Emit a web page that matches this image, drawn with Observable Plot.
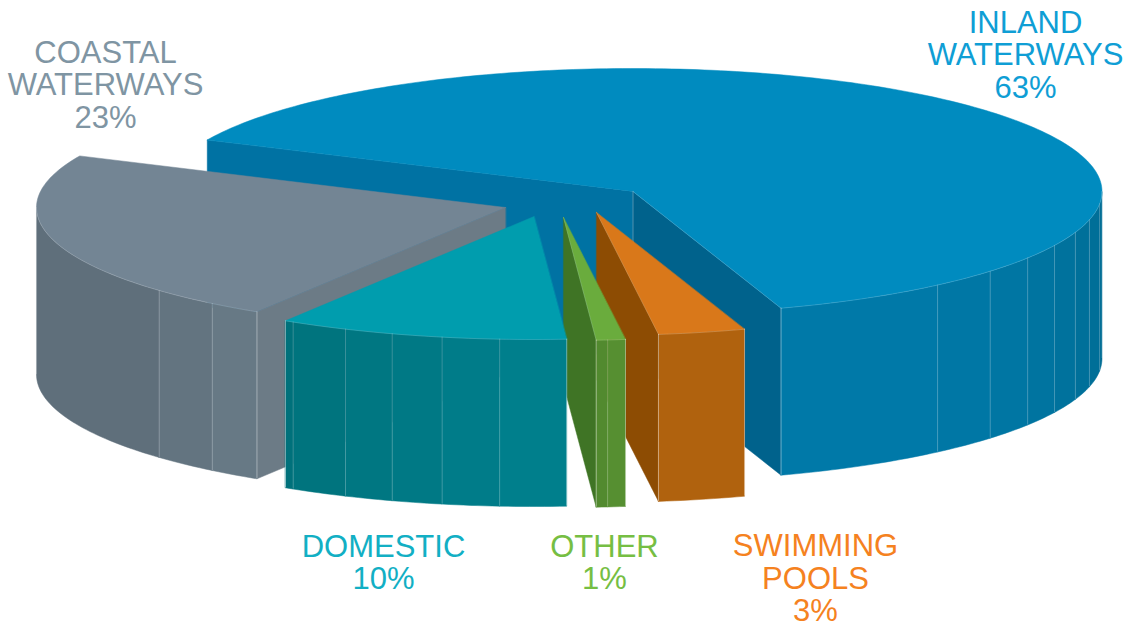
<!DOCTYPE html>
<html>
<head>
<meta charset="utf-8">
<script src="https://cdn.jsdelivr.net/npm/d3@7"></script>
<script src="https://cdn.jsdelivr.net/npm/@observablehq/plot@0.6"></script>
<style>
  html, body { margin: 0; padding: 0; background: #fff; }
  svg { display: block; }
</style>
</head>
<body>
<div id="chart"></div>
<script>
// Shares of water use by category, in percent
const categories = ["Inland waterways", "Coastal waterways", "Domestic", "Other", "Swimming pools"];
const shares = [63, 23, 10, 1, 3];

// Label text, one entry per category
const labelText = ["INLAND\nWATERWAYS\n63%", "COASTAL\nWATERWAYS\n23%", "DOMESTIC\n10%", "OTHER\n1%", "SWIMMING\nPOOLS\n3%"];
const labelX = [1025, 105, 383, 604, 815];
const labelY = [54.5, 84.5, 562, 562, 578];
const labelColors = ["#0f9ed5", "#7f95a3", "#12afc4", "#76be43", "#f5821f"];

// Exploded position of each wedge's apex
const apexX = [632.5, 505, 533.5, 563, 596];
const apexY = [191, 207, 216, 217, 212];

// Pie shape: ellipse radii and extruded thickness, first wedge's starting angle
const radiusX = 469;
const radiusY = 123;
const thickness = 167;
const startAngle = -71.6;

// Wedge colours
const topColors = ["#008bbf", "#738594", "#009dae", "#6aac3d", "#d9781a"];
const startWallColors = ["#00628c", "#5f707c", "#00737e", "#3f7425", "#8d4c03"];
const endWallColors = ["#0072a3", "#6c7b86", "#00737e", "#3f7425", "#8d4c03"];
const rimNearColors = ["#0079a8", "#5f6f7b", "#00717b", "#528a2f", "#b0620e"];
const rimFarColors = ["#006d95", "#677985", "#007f8c", "#568f31", "#b0620e"];

// Angles of the vertical creases on each wedge's curved wall
const creaseAngles = [
  [-49.5, -40.4, -32.7, -26, -19.4, -13.3, -5.8],
  [222.4, 231.3],
  [239.1, 246.3, 252.4, 258.7, 265.8],
  [275.4],
  []
];

// Painting order, back to front
const paintOrder = [0, 1, 4, 3, 2];

const rad = (d) => (d * Math.PI) / 180;

// Angular extent of each wedge, computed from its share
let running = startAngle;
const extents = shares.map((s) => {
  const a0 = running;
  running += (s / 100) * 360;
  return [a0, running];
});

function rimPoint(i, angle, drop = 0) {
  return {
    x: apexX[i] + radiusX * Math.cos(rad(angle)),
    y: apexY[i] - radiusY * Math.sin(rad(angle)) + drop
  };
}

function arc(i, a0, a1, drop = 0) {
  const n = Math.max(2, Math.ceil(Math.abs(a1 - a0)));
  return d3.range(n + 1).map((k) => rimPoint(i, a0 + ((a1 - a0) * k) / n, drop));
}

// Part of [a0, a1] where the rim faces the viewer
function nearSpan(a0, a1) {
  const spans = [[-180, 0], [180, 360]];
  for (const [lo, hi] of spans) {
    const s = Math.max(a0, lo), e = Math.min(a1, hi);
    if (e > s) return [s, e];
  }
  return null;
}

function radialWall(i, angle, fill) {
  const apex = { x: apexX[i], y: apexY[i] };
  const rim = rimPoint(i, angle);
  return {
    fill,
    points: [apex, rim, { x: rim.x, y: rim.y + thickness }, { x: apex.x, y: apex.y + thickness }]
  };
}

const marks = [];

for (const i of paintOrder) {
  const [a0, a1] = extents[i];
  const faces = [];
  const creases = [];
  const edges = [];

  // Flat walls exposed by pulling the wedge out of the pie
  const endVisible = Math.cos(rad(a1)) < 0;
  const startVisible = Math.cos(rad(a0)) > 0;
  if (endVisible) faces.push(radialWall(i, a1, endWallColors[i]));
  if (startVisible) faces.push(radialWall(i, a0, startWallColors[i]));
  if (endVisible && startVisible) {
    creases.push({ x: apexX[i], y1: apexY[i], y2: apexY[i] + thickness, o: 0.4 });
  }
  if (startVisible) edges.push([{ x: apexX[i], y: apexY[i] }, rimPoint(i, a0)]);

  // Curved outer wall, split into shaded facets
  const span = nearSpan(a0, a1);
  if (span) {
    const stops = [span[0], ...creaseAngles[i].filter((a) => a > span[0] && a < span[1]), span[1]];
    const shade = d3.interpolateRgb(rimNearColors[i], rimFarColors[i]);
    d3.pairs(stops).forEach(([s, e], k, all) => {
      const top = arc(i, s, e);
      const bottom = arc(i, s, e, thickness).reverse();
      const t = all.length > 1 ? k / (all.length - 1) : 0;
      faces.push({ fill: shade(t), points: [...top, ...bottom] });
    });
    stops.forEach((a) => {
      const p = rimPoint(i, a);
      const corner = a === a0 || a === a1;
      creases.push({ x: p.x, y1: p.y, y2: p.y + thickness, o: corner ? 0.5 : 0.25 });
    });
    edges.push(arc(i, span[0], span[1]));
  }

  // Top surface of the wedge
  faces.push({ fill: topColors[i], points: [{ x: apexX[i], y: apexY[i] }, ...arc(i, a0, a1)] });

  const outline = faces.flatMap((f, face) => f.points.map((p) => ({ ...p, face, fill: f.fill })));
  marks.push(
    Plot.line(outline, {
      x: "x", y: "y", z: "face", fill: "fill", stroke: "fill",
      strokeWidth: 0.5, curve: "linear-closed"
    }),
    Plot.ruleX(creases, { x: "x", y1: "y1", y2: "y2", stroke: "#ffffff", strokeOpacity: "o", strokeWidth: 0.8 })
  );
  edges.forEach((edge) => {
    marks.push(Plot.line(edge, { x: "x", y: "y", stroke: "#ffffff", strokeOpacity: 0.22, strokeWidth: 0.7 }));
  });
}

// Category labels
const labels = categories.map((name, i) => ({
  name, text: labelText[i], x: labelX[i], y: labelY[i], color: labelColors[i]
}));
marks.push(
  Plot.text(labels, {
    x: "x", y: "y", text: "text", fill: "color",
    fontSize: 31, lineHeight: 1.05, textAnchor: "middle",
    fontFamily: "Liberation Sans", fontWeight: 400
  })
);

const chart = Plot.plot({
  width: 1128,
  height: 626,
  margin: 0,
  style: { background: "#fff" },
  x: { domain: [0, 1128], range: [0, 1128], axis: null },
  y: { domain: [0, 626], range: [0, 626], axis: null },
  color: { type: "identity" },
  opacity: { type: "identity" },
  marks
});
document.getElementById("chart").appendChild(chart);
</script>
</body>
</html>
